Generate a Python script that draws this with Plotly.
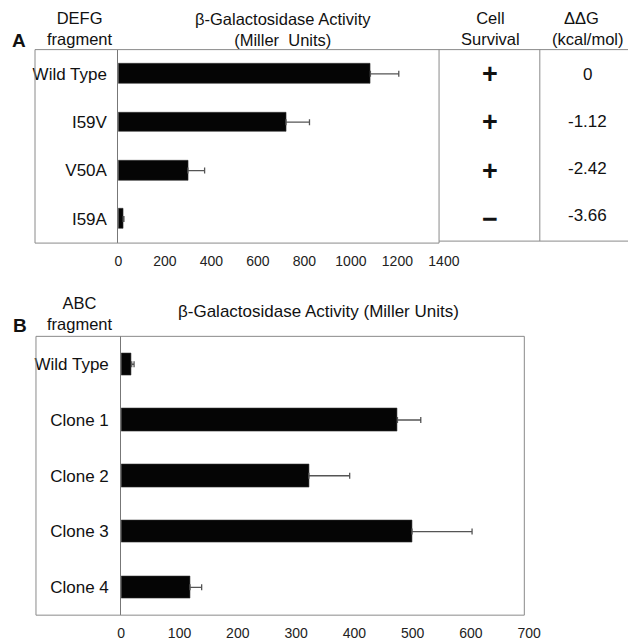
import plotly.graph_objects as go

W, H = 644, 641

# Panel A: DEFG fragment variants
defg_names = ["Wild Type", "I59V", "V50A", "I59A"]
defg_activity = [1084, 721, 299, 21]
defg_error = [122, 101, 72, 3]
defg_survival = ["+", "+", "+", "\u2212"]
defg_ddg = ["0", "-1.12", "-2.42", "-3.66"]
defg_ticks = [0, 200, 400, 600, 800, 1000, 1200, 1400]

# Panel B: ABC fragment clones
abc_names = ["Wild Type", "Clone 1", "Clone 2", "Clone 3", "Clone 4"]
abc_activity = [18, 474, 322, 499, 118]
abc_error = [4, 40, 70, 103, 20]
abc_ticks = [0, 100, 200, 300, 400, 500, 600, 700]

FONT = "Liberation Sans, Arial, sans-serif"
FRAME = "#8a8a8a"


def px(x):
    return x / W


def py(y):
    return 1 - y / H


fig = go.Figure()

fig.add_trace(go.Bar(
    x=defg_activity, y=list(range(len(defg_names))), orientation="h",
    width=0.41, marker=dict(color="#050505", line=dict(color="#333", width=0.6)),
    error_x=dict(type="data", array=defg_error, arrayminus=[0] * 4, symmetric=False,
                 color="#555", thickness=1.3, width=3),
    xaxis="x", yaxis="y", showlegend=False,
))

fig.add_trace(go.Bar(
    x=abc_activity, y=list(range(len(abc_names))), orientation="h",
    width=0.40, marker=dict(color="#050505", line=dict(color="#333", width=0.6)),
    error_x=dict(type="data", array=abc_error, arrayminus=[0] * 5, symmetric=False,
                 color="#555", thickness=1.3, width=3),
    xaxis="x2", yaxis="y2", showlegend=False,
))

tickfont = dict(family=FONT, size=14, color="#222")
catfont = dict(family=FONT, size=17, color="#111")

fig.update_layout(
    width=W, height=H, margin=dict(l=0, r=0, t=0, b=0),
    paper_bgcolor="white", plot_bgcolor="rgba(0,0,0,0)",
    bargap=0,
    xaxis=dict(domain=[px(118), px(454)], range=[0, 1400], tickvals=defg_ticks,
               showgrid=False, zeroline=False, showline=False, ticks="",
               tickfont=tickfont, anchor="y", ticklabelstandoff=8, fixedrange=True),
    yaxis=dict(domain=[py(245), py(50)], range=[3.5, -0.5],
               tickvals=list(range(len(defg_names))), ticktext=defg_names,
               showgrid=False, zeroline=False, showline=True, linecolor="#777",
               linewidth=1, ticks="", tickfont=catfont, anchor="x",
               ticklabelstandoff=7, fixedrange=True),
    xaxis2=dict(domain=[px(121), px(542)], range=[0, 700], tickvals=abc_ticks,
                showgrid=False, zeroline=False, showline=False, ticks="",
                tickfont=tickfont, anchor="y2", ticklabelstandoff=8, fixedrange=True),
    yaxis2=dict(domain=[py(620), py(339)], range=[4.5, -0.5],
                tickvals=list(range(len(abc_names))), ticktext=abc_names,
                showgrid=False, zeroline=False, showline=True, linecolor="#777",
                linewidth=1, ticks="", tickfont=catfont, anchor="x2",
                ticklabelstandoff=8, fixedrange=True),
)

shapes = []


def line(x0, y0, x1, y1, color=FRAME):
    shapes.append(dict(type="line", xref="paper", yref="paper",
                       x0=px(x0), y0=py(y0), x1=px(x1), y1=py(y1),
                       line=dict(color=color, width=1)))


# Panel A frame and the two table columns to its right
line(32, 50, 644, 50)
line(32, 50, 32, 245)
line(32, 245, 449, 245)
line(449, 50, 449, 245)
line(553, 50, 553, 243)
line(449, 243, 644, 243)

# Panel B frame
line(33, 339, 537, 339)
line(33, 339, 33, 620)
line(33, 620, 537, 620)
line(537, 339, 537, 620)

fig.update_layout(shapes=shapes)

ann = []


def text(x, y, s, size=17, bold=False, color="#111"):
    ann.append(dict(x=px(x), y=py(y), xref="paper", yref="paper", text=s,
                    showarrow=False, xanchor="center", yanchor="middle",
                    align="center",
                    font=dict(family=FONT, size=size, color=color,
                              weight="bold" if bold else "normal")))


# Panel A headers
text(15, 41, "A", size=19, bold=True)
text(78, 29, "DEFG<br>fragment", size=16.5)
text(288, 29.5, "\u03b2-Galactosidase Activity<br>(Miller\u00a0 Units)", size=16.5)
text(502, 29, "Cell<br>Survival", size=16.5)
text(596, 18, "\u0394\u0394G", size=16.5)
text(603, 39, "(kcal/mol)", size=16.5)

# Panel B headers
text(16, 328, "B", size=19, bold=True)
text(78, 315.5, "ABC<br>fragment", size=16.5)
text(325, 314, "\u03b2-Galactosidase Activity (Miller Units)")

# Cell survival and free-energy columns, aligned to panel A rows
for i, (s, g) in enumerate(zip(defg_survival, defg_ddg)):
    ann.append(dict(x=px(502), y=i, xref="paper", yref="y", text=s,
                    showarrow=False, xanchor="center", yanchor="middle",
                    font=dict(family=FONT, size=27, color="#111", weight="bold")))
    ann.append(dict(x=px(602), y=i, xref="paper", yref="y", text=g,
                    showarrow=False, xanchor="center", yanchor="middle",
                    yshift=i * 1.6 - 1,
                    font=dict(family=FONT, size=17, color="#111")))

fig.update_layout(annotations=ann)

fig.write_html("out.html")
